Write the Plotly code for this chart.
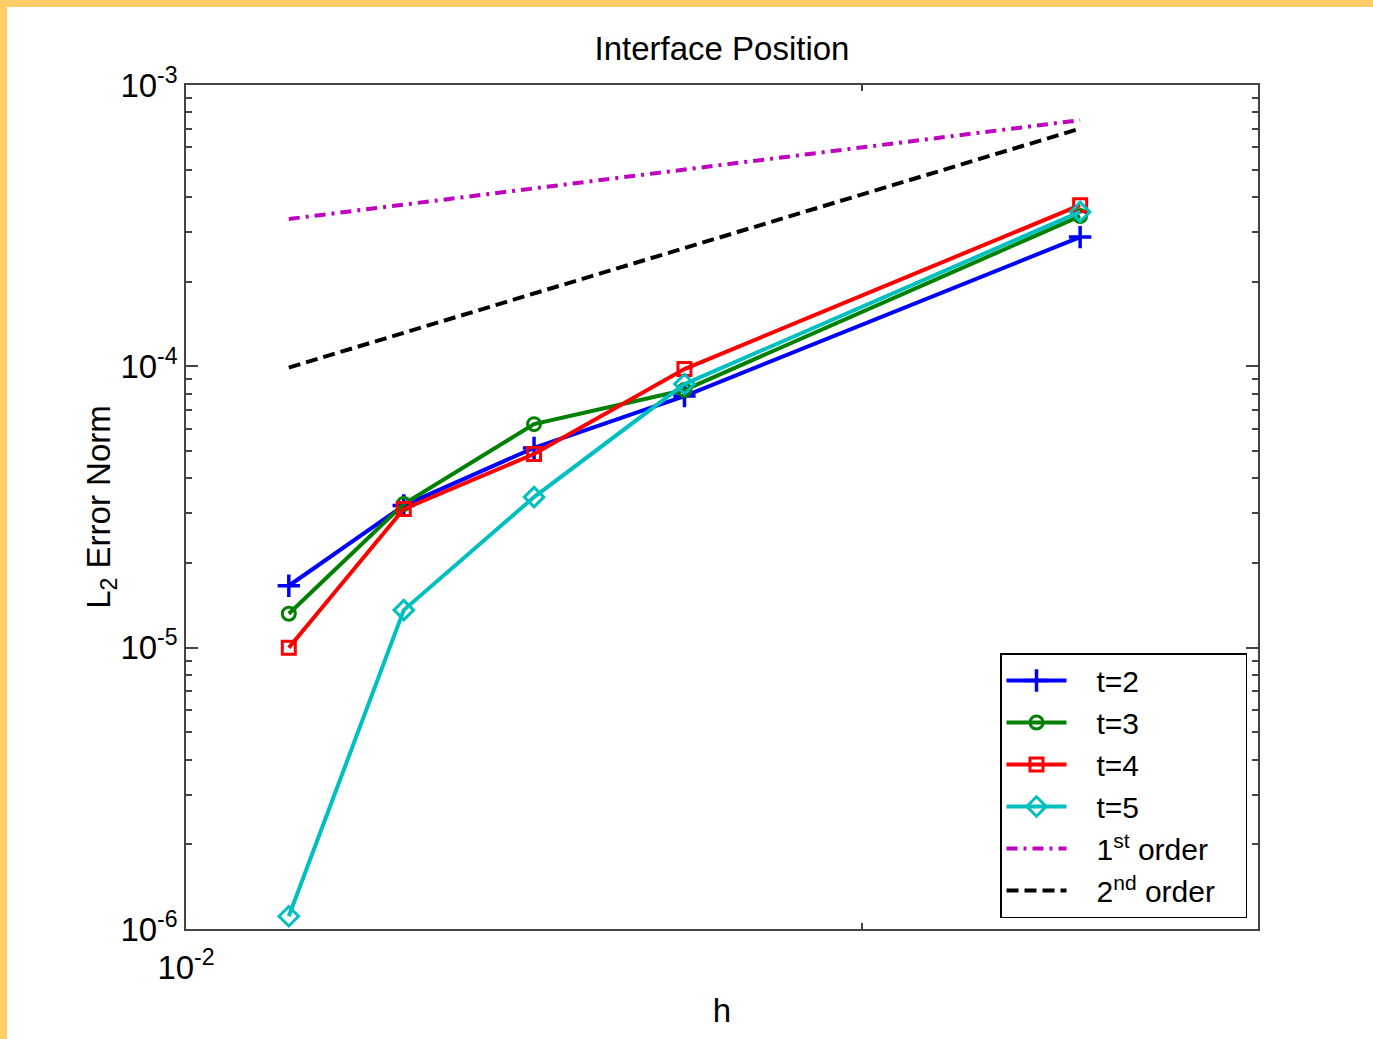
import plotly.graph_objects as go

# ---- data ----
h = [1/90, 1/80, 1/70, 1/60, 1/40]
err_t2 = [1.66e-5, 3.20e-5, 5.13e-5, 7.84e-5, 2.88e-4]
err_t3 = [1.32e-5, 3.24e-5, 6.23e-5, 8.24e-5, 3.42e-4]
err_t4 = [1.00e-5, 3.11e-5, 4.88e-5, 9.78e-5, 3.74e-4]
err_t5 = [1.11e-6, 1.36e-5, 3.43e-5, 8.65e-5, 3.54e-4]
ref_h = [1/90, 1/40]
ref_first = [3.34e-4, 7.50e-4]
ref_second = [9.90e-5, 7.00e-4]

y_major = [1e-6, 1e-5, 1e-4, 1e-3]
y_major_text = ["10<sup>-6</sup>", "10<sup>-5</sup>", "10<sup>-4</sup>", "10<sup>-3</sup>"]
y_minor = [m * d for d in [1e-6, 1e-5, 1e-4] for m in range(2, 10)]
x_major = [0.01]
x_major_text = ["10<sup>-2</sup>"]
x_minor = [0.02, 0.03]

FONT = "Liberation Sans, Arial, sans-serif"
PRE = "\u00a0\u00a0\u00a0"
POST = "\u00a0\u00a0\u00a0"

fig = go.Figure()

series = [
    ("t=2", err_t2, "#0000FF", "cross-thin-open", 16, 3.5),
    ("t=3", err_t3, "#008000", "circle-open", 13, 3),
    ("t=4", err_t4, "#FF0000", "square-open", 13, 3),
    ("t=5", err_t5, "#00BFBF", "diamond-open", 15, 3),
]
for name, vals, col, sym, sz, lw in series:
    fig.add_trace(go.Scatter(
        x=h, y=vals, name=PRE + name, mode="lines+markers",
        line=dict(color=col, width=4),
        marker=dict(symbol=sym, size=sz, color=col, line=dict(color=col, width=lw)),
    ))

fig.add_trace(go.Scatter(
    x=ref_h, y=ref_first, name=PRE + "1<sup>st</sup> order" + POST, mode="lines",
    line=dict(color="#BF00BF", width=4, dash="11px,6px,3px,6px"),
))
fig.add_trace(go.Scatter(
    x=ref_h, y=ref_second, name=PRE + "2<sup>nd</sup> order" + POST, mode="lines",
    line=dict(color="#000000", width=4, dash="12px,6px"),
))

L, R, T, B = 186, 115, 85, 110
W, H = 1373, 1039
pw, ph = W - L - R, H - T - B

axis_common = dict(
    type="log", showgrid=False, zeroline=False,
    showline=True, linecolor="#444444", linewidth=1.5, mirror="allticks",
    ticks="inside", tickcolor="#444444", tickwidth=1.5,
    tickfont=dict(family=FONT, size=33, color="black"),
)

fig.update_xaxes(
    **axis_common,
    range=[-2, -1.5229],
    tickmode="array", tickvals=x_major, ticktext=x_major_text, ticklen=8,
    minor=dict(tickmode="array", tickvals=x_minor, ticklen=6, ticks="inside",
               tickcolor="#444444", tickwidth=1.5),
    ticklabelstandoff=9,
    title=dict(text="h", font=dict(family=FONT, size=33, color="black"), standoff=14),
)
fig.update_yaxes(
    **axis_common,
    range=[-6, -3],
    tickmode="array", tickvals=y_major, ticktext=y_major_text, ticklen=12,
    minor=dict(tickmode="array", tickvals=y_minor, ticklen=6, ticks="inside",
               tickcolor="#444444", tickwidth=1.5),
    title=dict(text="L<sub>2</sub> Error Norm", font=dict(family=FONT, size=33, color="black"), standoff=0),
)

# orange frame strips (top and left) drawn in paper coordinates
fig.add_shape(type="rect", xref="paper", yref="paper",
              x0=-L / pw, x1=(7 - L) / pw, y0=-B / ph, y1=(H - B) / ph + 0.01,
              fillcolor="#FFCC66", line=dict(width=0), layer="below")
fig.add_shape(type="rect", xref="paper", yref="paper",
              x0=-L / pw, x1=(W - L) / pw, y0=(H - B - 7) / ph, y1=(H - B) / ph + 0.01,
              fillcolor="#FFCC66", line=dict(width=0), layer="below")

fig.update_layout(
    width=W, height=H,
    margin=dict(l=L, r=R, t=T, b=B, autoexpand=False),
    paper_bgcolor="white", plot_bgcolor="white",
    title=dict(text="Interface Position", x=(L + pw / 2) / W, xanchor="center",
               y=1 - 48 / H, yanchor="middle",
               font=dict(family=FONT, size=33, color="black")),
    legend=dict(
        x=(1247 - L) / pw, xanchor="right", y=(929 - 918) / ph, yanchor="bottom",
        bgcolor="white", bordercolor="black", borderwidth=1.5,
        font=dict(family=FONT, size=30, color="black"),
        itemwidth=60, tracegroupgap=0,
    ),
    showlegend=True,
)

fig.write_html("out.html", config={"displayModeBar": False},
               post_script="document.body.style.margin='0';document.body.style.overflow='hidden';")
